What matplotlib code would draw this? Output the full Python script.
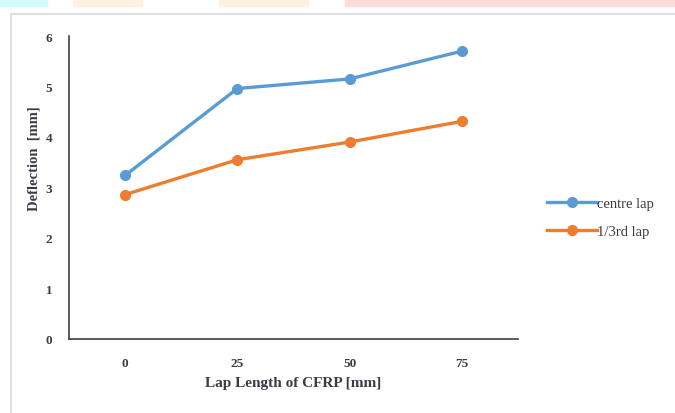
import matplotlib.pyplot as plt
from matplotlib.patches import Rectangle

lap_lengths = ['0', '25', '50', '75']
centre_lap = [3.24, 4.96, 5.15, 5.70]
third_lap = [2.86, 3.55, 3.90, 4.31]

plt.rcParams['font.family'] = ['Liberation Serif', 'DejaVu Serif']

W, H = 675, 414
fig = plt.figure(figsize=(W / 100, H / 100), dpi=100)

# screenshot decorations: coloured strip at the top and the chart frame
for x0, x1, c in [(0, 47, '#d2fbfd'), (73, 142, '#fff0e0'), (219, 308, '#fff0e0'),
                  (345, 675, '#ffdcd6')]:
    fig.patches.append(Rectangle((x0 / W, 1 - 7 / H), (x1 - x0) / W, 7 / H,
                                 transform=fig.transFigure, color=c, zorder=0))
fig.patches.append(Rectangle((11 / W, -0.01), 1, 1 - 15 / H + 0.01, transform=fig.transFigure,
                             facecolor='none', edgecolor='#d9d9d9', linewidth=1.2))

ax = fig.add_axes([69 / W, 1 - 340 / H, (518 - 69) / W, (340 - 37) / H])
x = range(len(lap_lengths))
ax.plot(x, centre_lap, color='#5b9bd5', linewidth=2.4, marker='o', markersize=7,
        label='centre lap')
ax.plot(x, third_lap, color='#ed7d31', linewidth=2.4, marker='o', markersize=7,
        label='1/3rd lap')

ax.set_xlim(-0.5, 3.5)
ax.set_ylim(0, 6)
ax.set_xticks(list(x))
ax.set_xticklabels(lap_lengths)
ax.set_yticks(range(7))

txt = '#3b3b48'
ax.tick_params(length=0, labelsize=9.5, labelcolor=txt)
ax.tick_params(axis='x', pad=13)
ax.tick_params(axis='y', pad=12)
for lab in ax.get_xticklabels() + ax.get_yticklabels():
    lab.set_fontweight('bold')

for s in ['top', 'right']:
    ax.spines[s].set_visible(False)
for s in ['left', 'bottom']:
    ax.spines[s].set_color('#404040')
    ax.spines[s].set_linewidth(1.2)

ax.set_xlabel('Lap Length of CFRP [mm]', fontsize=11, color=txt, fontweight='bold', labelpad=5)
ax.set_ylabel('Deflection  [mm]', fontsize=10.5, color=txt, fontweight='bold')
ax.yaxis.set_label_coords(-0.064, 0.60)

fig.legend(loc='center left', bbox_to_anchor=(547 / W, 1 - 218.5 / H), frameon=False,
           fontsize=10.5, handlelength=3.4, handletextpad=0.05, labelspacing=1.0,
           borderpad=0, borderaxespad=0, labelcolor=txt)

fig.savefig('out.png', dpi=100)
